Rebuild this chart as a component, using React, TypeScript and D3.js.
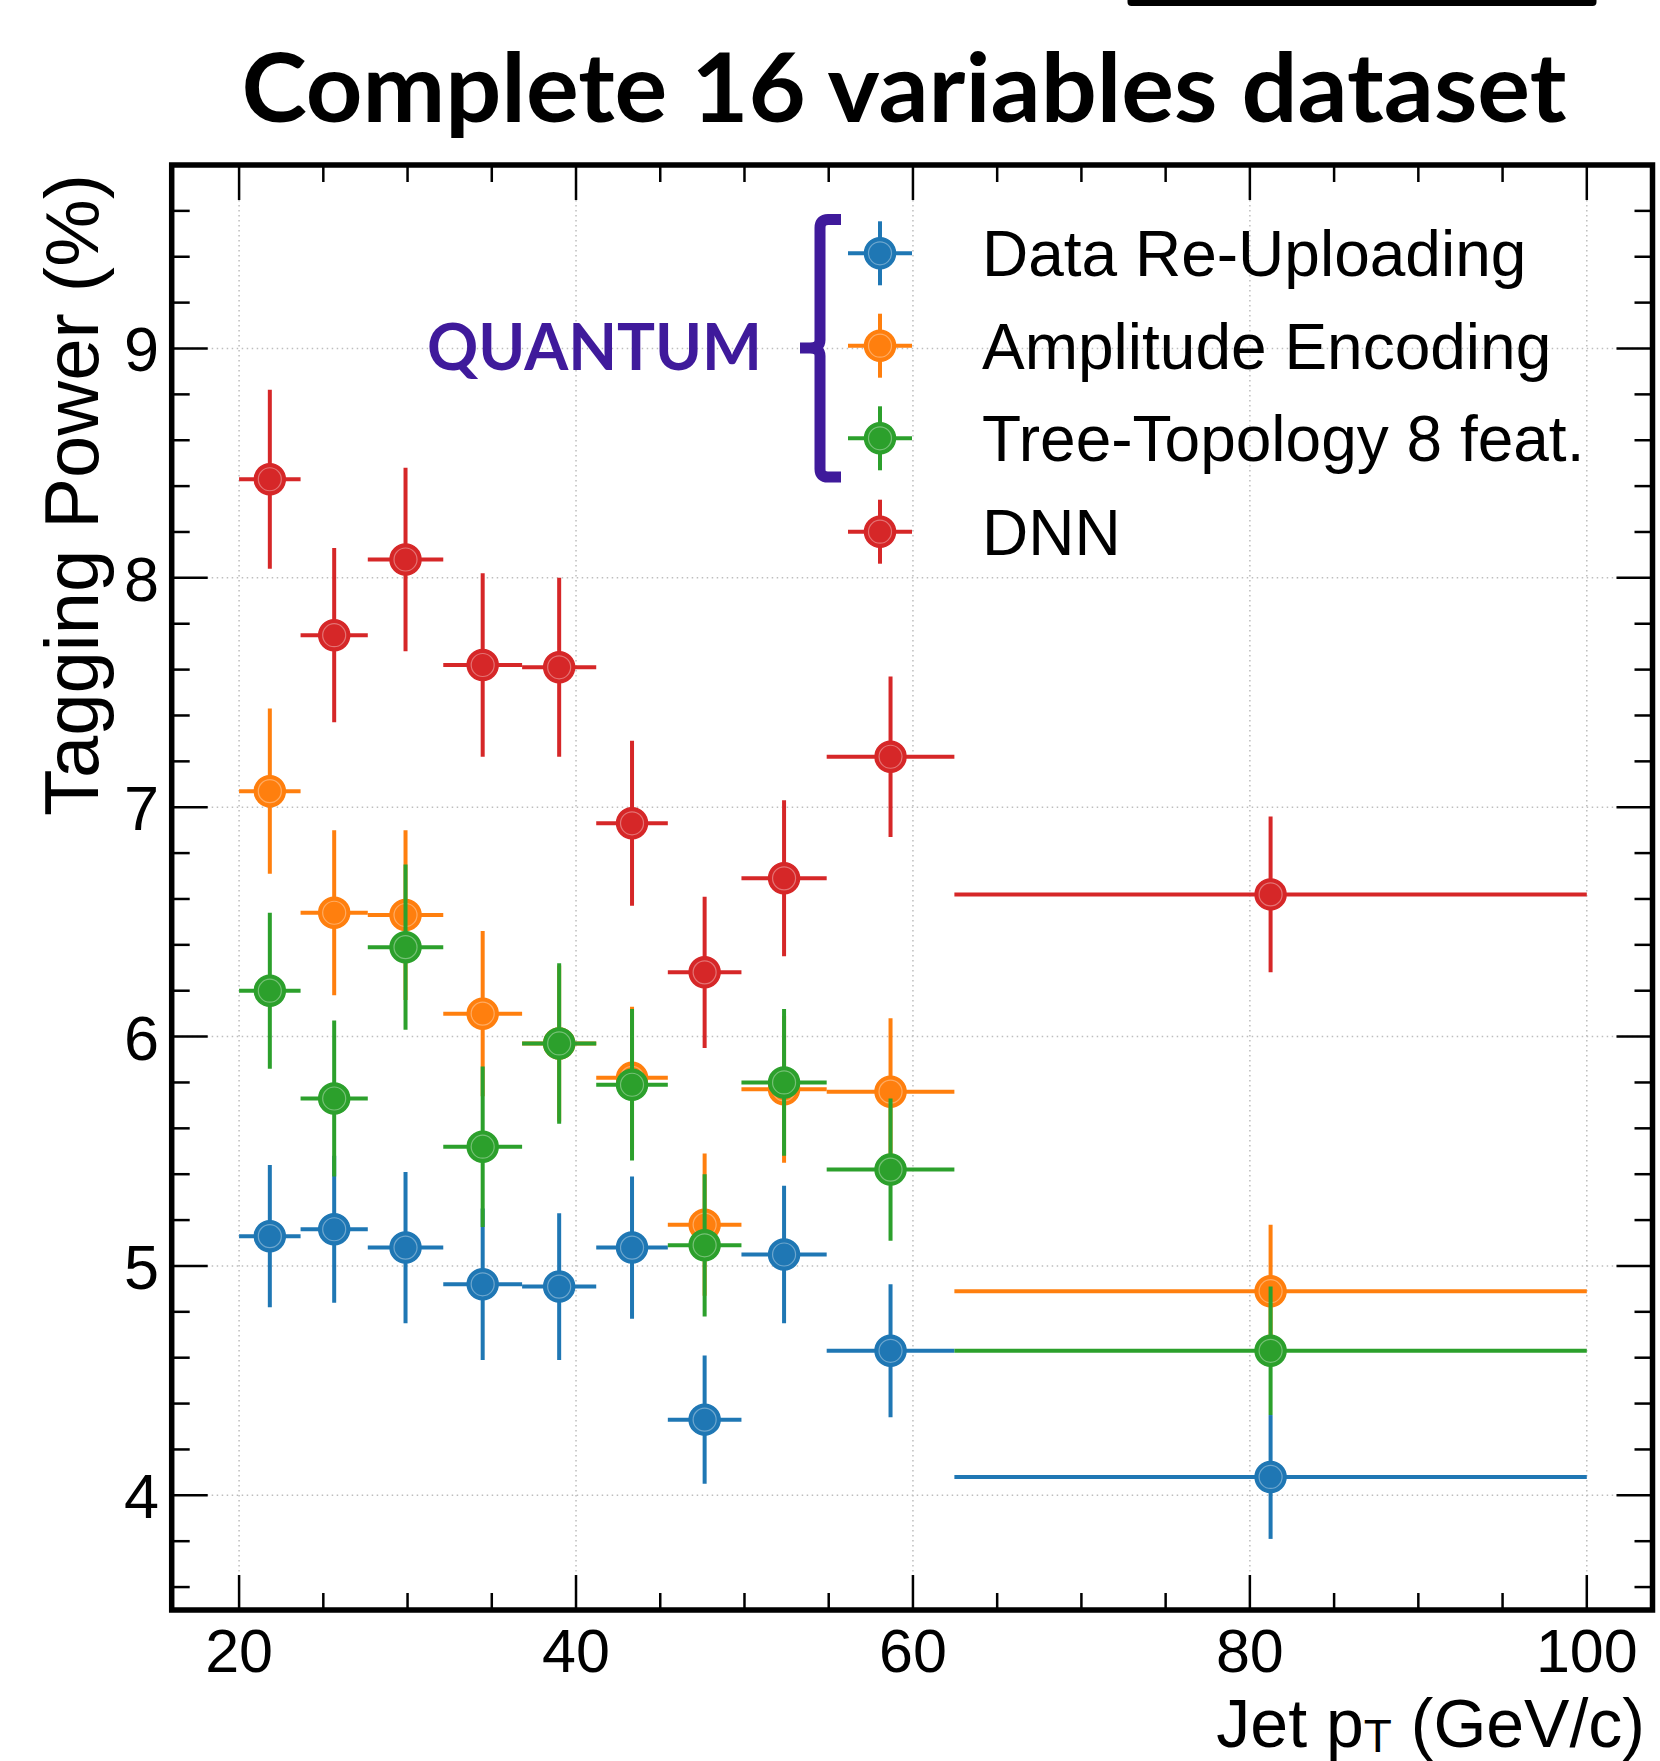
import * as d3 from "d3";
import { useEffect } from "react";

// pT bins (GeV/c) shared by every model
const binEdges = [20, 23.65, 27.64, 32.12, 36.8, 41.2, 45.45, 49.82, 54.88, 62.46, 100];

// tagging power (%) and its uncertainty, one entry per bin
const reUploadValues = [5.13, 5.16, 5.08, 4.92, 4.91, 5.08, 4.33, 5.05, 4.63, 4.08];
const reUploadErrors = [0.31, 0.32, 0.33, 0.33, 0.32, 0.31, 0.28, 0.30, 0.29, 0.27];
const amplitudeValues = [7.07, 6.54, 6.53, 6.10, 5.97, 5.82, 5.18, 5.77, 5.76, 4.89];
const amplitudeErrors = [0.36, 0.36, 0.37, 0.36, 0.34, 0.31, 0.31, 0.32, 0.32, 0.29];
const treeValues = [6.20, 5.73, 6.39, 5.52, 5.97, 5.79, 5.09, 5.80, 5.42, 4.63];
const treeErrors = [0.34, 0.34, 0.36, 0.35, 0.35, 0.33, 0.31, 0.32, 0.31, 0.28];
const dnnValues = [8.43, 7.75, 8.08, 7.62, 7.61, 6.93, 6.28, 6.69, 7.22, 6.62];
const dnnErrors = [0.39, 0.38, 0.40, 0.40, 0.39, 0.36, 0.33, 0.34, 0.35, 0.34];

const seriesLabels = ["Data Re-Uploading", "Amplitude Encoding", "Tree-Topology 8 feat.", "DNN"];
const seriesColors = ["#1f77b4", "#ff7f0e", "#2ca02c", "#d62728"];

const xMajorTicks = [20, 40, 60, 80, 100];
const xMinorTicks = [25, 30, 35, 45, 50, 55, 65, 70, 75, 85, 90, 95];
const yMajorTicks = [4, 5, 6, 7, 8, 9];
const yMinorTicks = [3.6, 3.8, 4.2, 4.4, 4.6, 4.8, 5.2, 5.4, 5.6, 5.8, 6.2, 6.4, 6.6, 6.8,
    7.2, 7.4, 7.6, 7.8, 8.2, 8.4, 8.6, 8.8, 9.2, 9.4, 9.6];

const width = 1660, height = 1761;
const plot = { left: 171.7, right: 1652.5, top: 165, bottom: 1610 };
const quantumColor = "#3f1a9b";
const sans = "'Liberation Sans', Arial, Helvetica, sans-serif";

export default function App() {

    useEffect(() => {
        document.body.style.margin = "0";
    }, []);

    const x = d3.scaleLinear().domain([16, 103.9]).range([plot.left, plot.right]);
    const y = d3.scaleLinear().domain([3.5, 9.8]).range([plot.bottom, plot.top]);

    const series = [
        { values: reUploadValues, errors: reUploadErrors },
        { values: amplitudeValues, errors: amplitudeErrors },
        { values: treeValues, errors: treeErrors },
        { values: dnnValues, errors: dnnErrors },
    ];

    const bins = d3.pairs(binEdges).map(([lo, hi]) => ({ lo, hi, mid: (lo + hi) / 2 }));

    const marker = (cx, cy, color, key) => (
        <g key={key}>
            <circle cx={cx} cy={cy} r={15.5} fill={color} stroke={color} strokeWidth={1.5} />
            <circle cx={cx} cy={cy} r={11.5} fill="none" stroke="#ffffff" strokeOpacity={0.35} strokeWidth={1.2} />
        </g>
    );

    const legendRowY = [253.3, 345.7, 438.3, 531.7];
    const legendX = 880;

    return (
        <div style={{ position: "absolute", left: 0, top: 0 }}>
            <svg width={width} height={height} style={{ display: "block", background: "#fff" }}>
                {/* leftover frame edge from the cropped slide */}
                <rect x={1127.5} y={-4} width={469} height={10} rx={4} fill="#000" />

                <text x={241.4} y={121.7} fontFamily="Lato, 'Open Sans', sans-serif" fontWeight={700}
                      fontSize={95} textLength={1325} lengthAdjust="spacingAndGlyphs">
                    Complete 16 variables dataset
                </text>

                {/* grid */}
                <g stroke="#bdbdbd" strokeWidth={1.5} strokeDasharray="1.5 3.5">
                    {xMajorTicks.map(t => (
                        <line key={"gx" + t} x1={x(t)} x2={x(t)} y1={plot.top} y2={plot.bottom} />
                    ))}
                    {yMajorTicks.map(t => (
                        <line key={"gy" + t} x1={plot.left} x2={plot.right} y1={y(t)} y2={y(t)} />
                    ))}
                </g>

                {/* ticks on all four sides, pointing inwards */}
                <g stroke="#000" strokeWidth={2.5}>
                    {xMajorTicks.map(t => (
                        <g key={"tx" + t}>
                            <line x1={x(t)} x2={x(t)} y1={plot.bottom} y2={plot.bottom - 35} />
                            <line x1={x(t)} x2={x(t)} y1={plot.top} y2={plot.top + 35} />
                        </g>
                    ))}
                    {xMinorTicks.map(t => (
                        <g key={"mx" + t}>
                            <line x1={x(t)} x2={x(t)} y1={plot.bottom} y2={plot.bottom - 17} />
                            <line x1={x(t)} x2={x(t)} y1={plot.top} y2={plot.top + 17} />
                        </g>
                    ))}
                    {yMajorTicks.map(t => (
                        <g key={"ty" + t}>
                            <line x1={plot.left} x2={plot.left + 36} y1={y(t)} y2={y(t)} />
                            <line x1={plot.right} x2={plot.right - 36} y1={y(t)} y2={y(t)} />
                        </g>
                    ))}
                    {yMinorTicks.map(t => (
                        <g key={"my" + t}>
                            <line x1={plot.left} x2={plot.left + 18} y1={y(t)} y2={y(t)} />
                            <line x1={plot.right} x2={plot.right - 18} y1={y(t)} y2={y(t)} />
                        </g>
                    ))}
                </g>

                {/* data: error crosses then markers, series by series */}
                {series.map((s, si) => (
                    <g key={"s" + si}>
                        {bins.map((b, i) => (
                            <g key={i} stroke={seriesColors[si]} strokeWidth={4}>
                                <line x1={x(b.lo)} x2={x(b.hi)} y1={y(s.values[i])} y2={y(s.values[i])} />
                                <line x1={x(b.mid)} x2={x(b.mid)}
                                      y1={y(s.values[i] - s.errors[i])} y2={y(s.values[i] + s.errors[i])} />
                            </g>
                        ))}
                        {bins.map((b, i) => marker(x(b.mid), y(s.values[i]), seriesColors[si], "m" + i))}
                    </g>
                ))}

                {/* frame */}
                <rect x={plot.left} y={plot.top} width={plot.right - plot.left} height={plot.bottom - plot.top}
                      fill="none" stroke="#000" strokeWidth={5.5} />

                {/* tick labels */}
                <g fontFamily={sans} fill="#000">
                    {xMajorTicks.map(t => (
                        <text key={"lx" + t} x={x(t)} y={1672} fontSize={61} textAnchor="middle">{t}</text>
                    ))}
                    {yMajorTicks.map(t => (
                        <text key={"ly" + t} x={159} y={y(t) + 23} fontSize={63} textAnchor="end">{t}</text>
                    ))}
                </g>

                <text transform="translate(98,495) rotate(-90)" textAnchor="middle"
                      fontFamily={sans} fontSize={76}>Tagging Power (%)</text>

                <text x={1645} y={1747} textAnchor="end" fontFamily={sans} fontSize={68}>
                    <tspan>Jet p</tspan>
                    <tspan fontSize={46} dy={5}>T</tspan>
                    <tspan dy={-5}> (GeV/c)</tspan>
                </text>

                {/* legend */}
                {seriesLabels.map((label, i) => (
                    <g key={"lg" + i}>
                        <g stroke={seriesColors[i]} strokeWidth={4}>
                            <line x1={legendX - 32} x2={legendX + 32} y1={legendRowY[i]} y2={legendRowY[i]} />
                            <line x1={legendX} x2={legendX} y1={legendRowY[i] - 32} y2={legendRowY[i] + 32} />
                        </g>
                        {marker(legendX, legendRowY[i], seriesColors[i], "lm" + i)}
                        <text x={982} y={legendRowY[i] + 23} fontFamily={sans} fontSize={64}>{label}</text>
                    </g>
                ))}

                {/* QUANTUM bracket annotation */}
                <path d="M 841 219.5 L 828 219.5 Q 820 219.5 820 228 L 820 340 Q 820 348 810 348 L 800 348
                         M 810 348 Q 820 348 820 356 L 820 469 Q 820 477 828 477 L 841 477"
                      fill="none" stroke={quantumColor} strokeWidth={11} />
                <text x={427} y={370} fontFamily="Lato, 'Open Sans', sans-serif" fontWeight={700}
                      fontSize={65} fill={quantumColor} textLength={335} lengthAdjust="spacingAndGlyphs">
                    QUANTUM
                </text>
            </svg>
        </div>
    );
}
